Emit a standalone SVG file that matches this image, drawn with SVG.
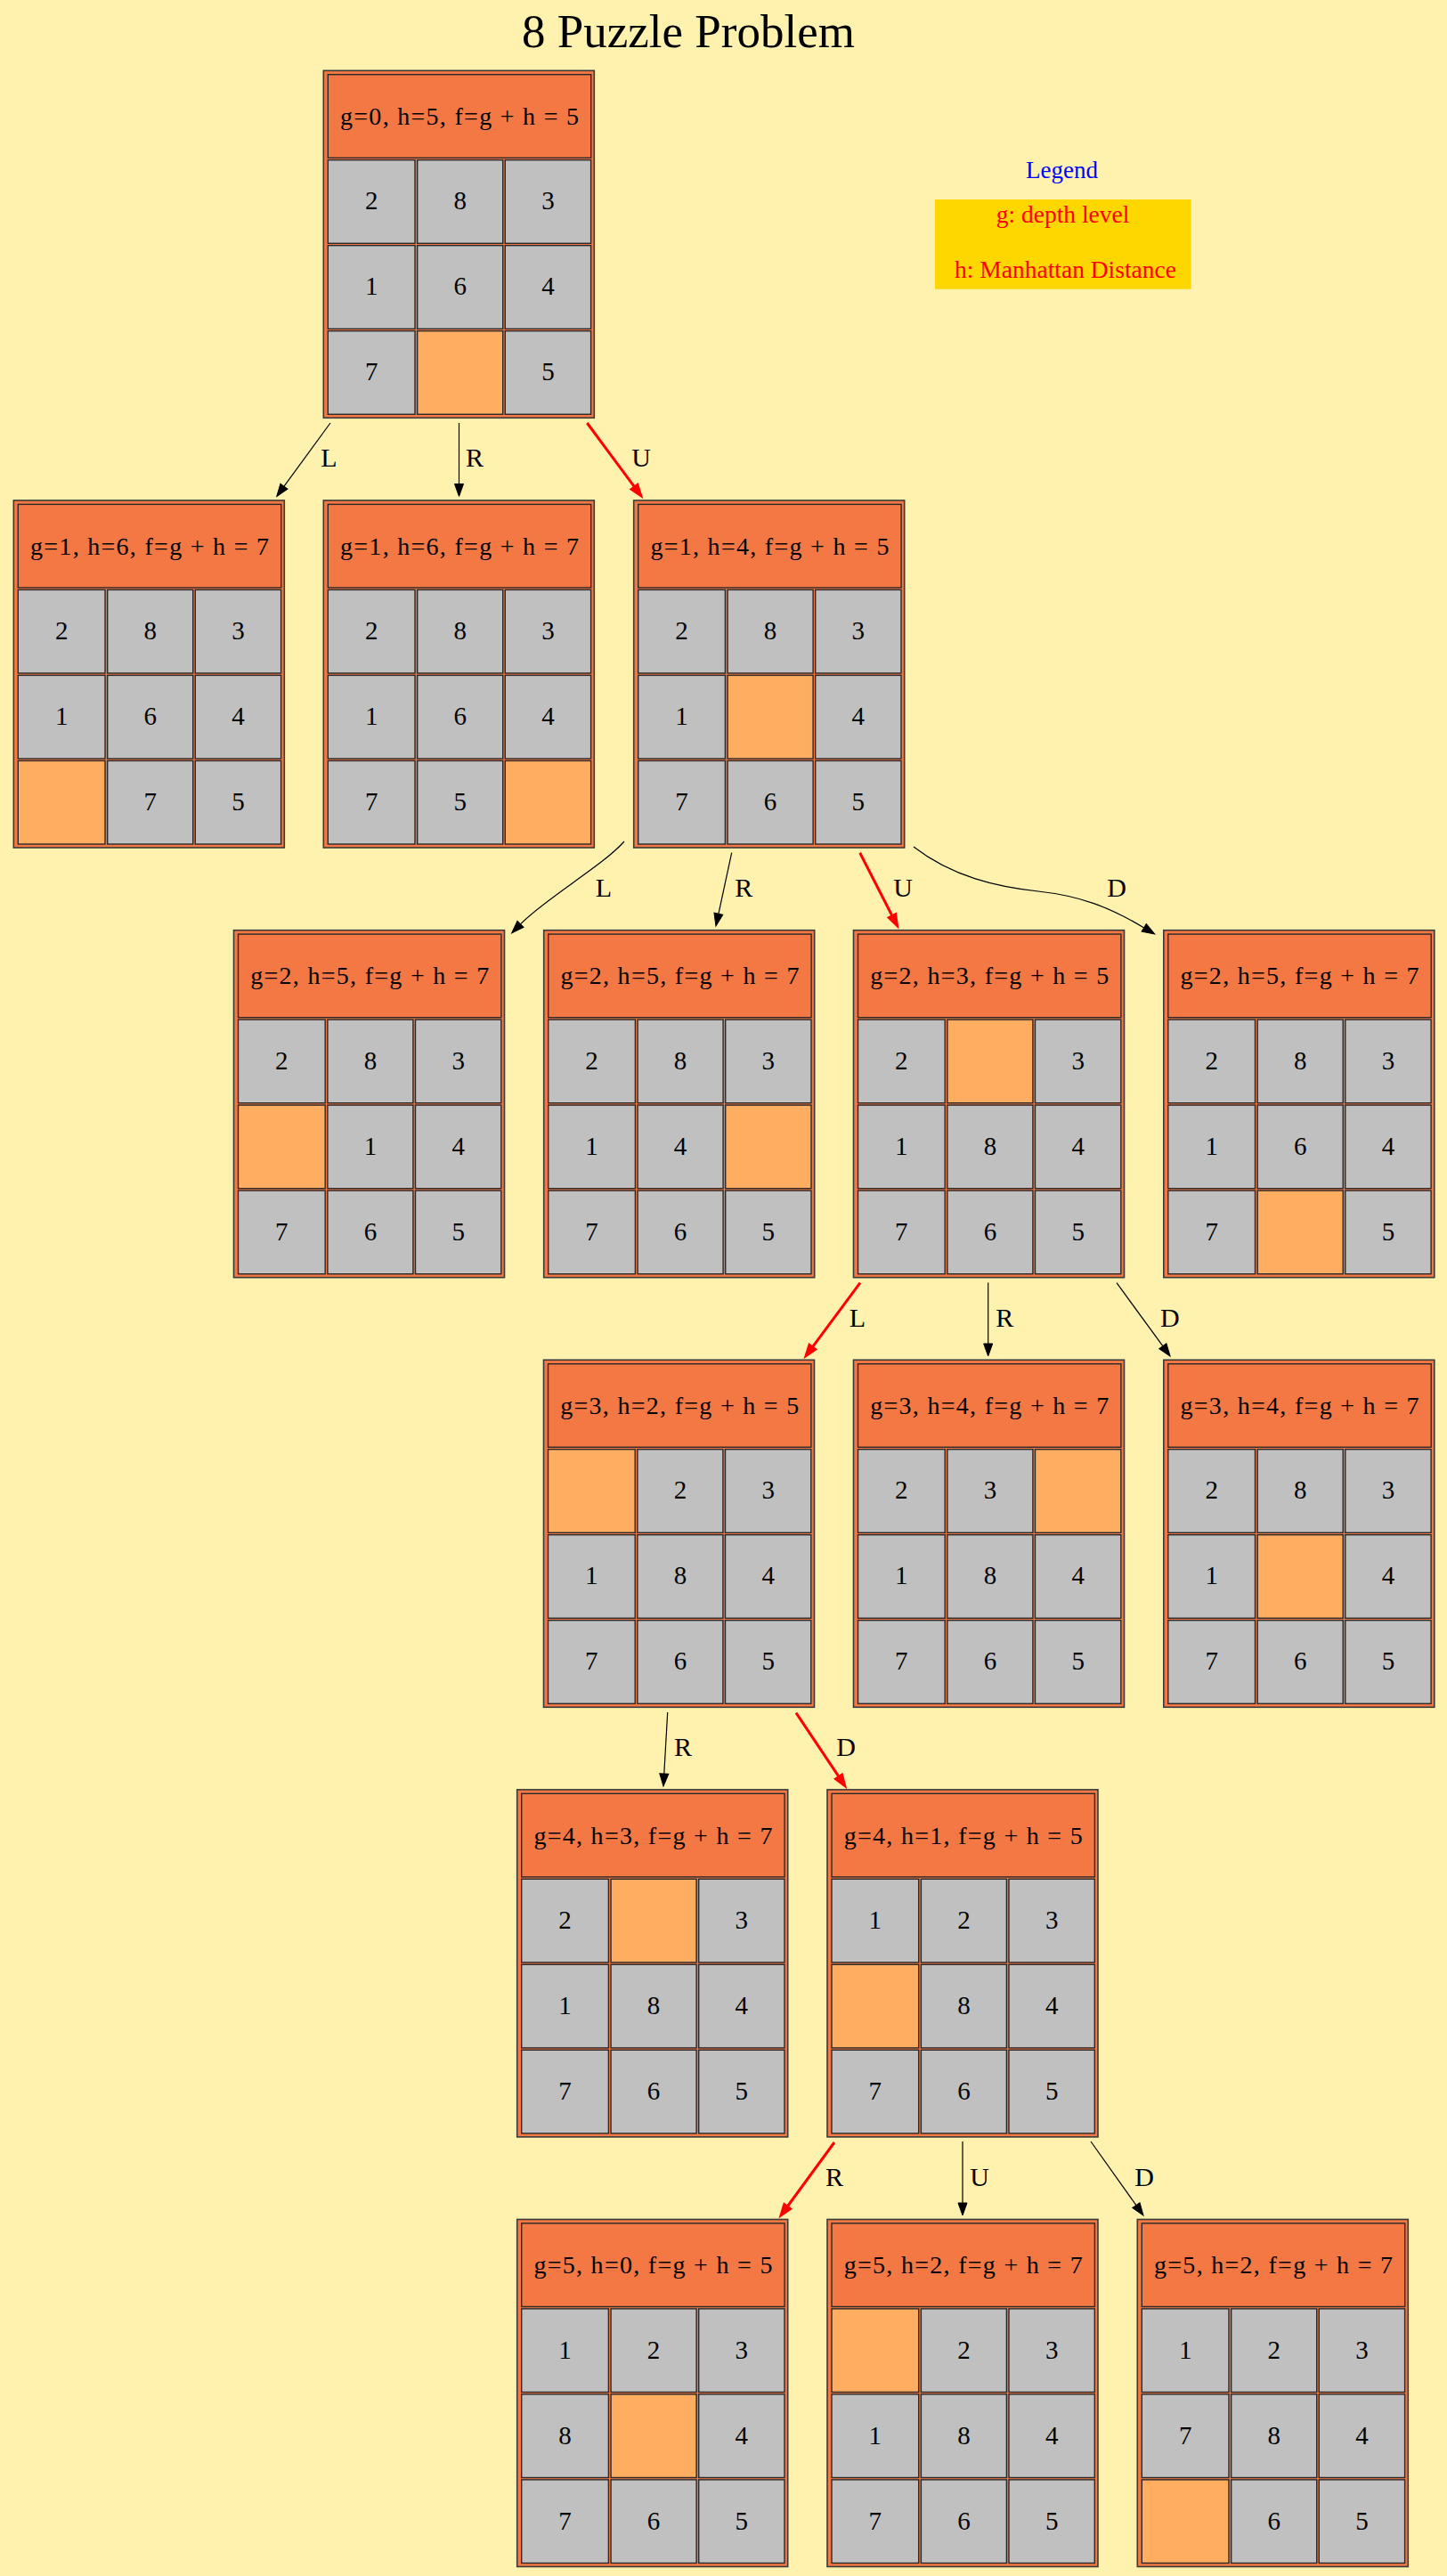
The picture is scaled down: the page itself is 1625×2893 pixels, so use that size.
<svg xmlns="http://www.w3.org/2000/svg" width="1625" height="2893" viewBox="0 0 1625 2893">
<style>
.bg{fill:#FFF2AE}
.outer{fill:#F37844;stroke:#3a3a3a;stroke-width:1.6}
.hdr{fill:#F37844;stroke:#2a2a2a;stroke-width:1.4}
.c{fill:#C0C0C0;stroke:#2a2a2a;stroke-width:1.4}
.e{fill:#FFAD60;stroke:#2a2a2a;stroke-width:1.4}
text{font-family:"Liberation Serif","Times New Roman",serif}
.ht{font-size:28px;text-anchor:middle;fill:#000}
.ct{font-size:29px;text-anchor:middle;fill:#000}
.lbl{font-size:30px;text-anchor:middle;fill:#000}
.edge{fill:none;stroke:#000;stroke-width:1.2}
.path{fill:none;stroke:#FF0000;stroke-width:3}
</style>
<defs>
<marker id="ah" markerUnits="userSpaceOnUse" markerWidth="16" markerHeight="12" refX="0" refY="5" orient="auto" overflow="visible"><path d="M0,0 L14,5 L0,10 z" fill="#000" stroke="#000" stroke-width="1"/></marker>
<marker id="ahr" markerUnits="userSpaceOnUse" markerWidth="16" markerHeight="12" refX="0" refY="5" orient="auto" overflow="visible"><path d="M0,0.5 L13,5 L0,9.5 z" fill="#FF0000" stroke="#FF0000" stroke-width="2.5" stroke-linejoin="miter"/></marker>
<g id="frame">
<rect class="outer" x="0" y="0" width="304" height="390"/>
<rect class="hdr" x="5" y="4.4" width="295.4" height="93.6"/>
</g>
</defs>
<rect class="bg" x="0" y="0" width="1625" height="2893"/>
<text x="773" y="52.7" style="font-size:53px;text-anchor:middle;fill:#000">8 Puzzle Problem</text>

<g id="legend">
<text x="1192.5" y="200" style="font-size:27px;text-anchor:middle;fill:#0000FF">Legend</text>
<rect x="1050" y="224" width="287.7" height="100.7" fill="#FFD700"/>
<text x="1193.5" y="250" style="font-size:27.5px;text-anchor:middle;fill:#FF0000">g: depth level</text>
<text x="1196.5" y="311.7" style="font-size:27.5px;text-anchor:middle;fill:#FF0000">h: Manhattan Distance</text>
</g>

<g id="connectors">
<path class="edge" marker-end="url(#ah)" d="M371,475 L319,546.2"/>
<text class="lbl" x="369.5" y="524.3">L</text>
<path class="edge" marker-end="url(#ah)" d="M515.5,475 L515.5,543.5"/>
<text class="lbl" x="533" y="524.3">R</text>
<path class="path" marker-end="url(#ahr)" d="M659.3,475 L712.4,546.7"/>
<text class="lbl" x="720" y="524.3">U</text>

<path class="edge" marker-end="url(#ah)" d="M701,945 C676,973 615,1007 584.5,1037.9"/>
<text class="lbl" x="678" y="1006.7">L</text>
<path class="edge" marker-end="url(#ah)" d="M821.7,957.7 L806.9,1026.3"/>
<text class="lbl" x="835.3" y="1006.7">R</text>
<path class="path" marker-end="url(#ahr)" d="M965.7,957.7 L1001.9,1028.5"/>
<text class="lbl" x="1014" y="1006.7">U</text>
<path class="edge" marker-end="url(#ah)" d="M1026,951 C1070,985 1120,996 1166,1001 S1244.7,1018 1284.7,1041.9"/>
<text class="lbl" x="1254" y="1006.7">D</text>

<path class="path" marker-end="url(#ahr)" d="M966,1440.7 L912.4,1512.8"/>
<text class="lbl" x="963" y="1489.7">L</text>
<path class="edge" marker-end="url(#ah)" d="M1109.7,1440.5 L1109.7,1509"/>
<text class="lbl" x="1128.3" y="1489.7">R</text>
<path class="edge" marker-end="url(#ah)" d="M1254,1440.7 L1305.8,1511.7"/>
<text class="lbl" x="1313.8" y="1489.7">D</text>

<path class="edge" marker-end="url(#ah)" d="M749.7,1923 L745.8,1992"/>
<text class="lbl" x="767" y="1972">R</text>
<path class="path" marker-end="url(#ahr)" d="M894,1923.6 L941.9,1995.2"/>
<text class="lbl" x="950" y="1972">D</text>

<path class="path" marker-end="url(#ahr)" d="M937,2406 L884.3,2478"/>
<text class="lbl" x="937" y="2454.5">R</text>
<path class="edge" marker-end="url(#ah)" d="M1081,2405 L1081,2474"/>
<text class="lbl" x="1100" y="2454.5">U</text>
<path class="edge" marker-end="url(#ah)" d="M1225,2405 L1275.9,2476.6"/>
<text class="lbl" x="1285" y="2454.5">D</text>
</g>

<g id="n0" transform="translate(363.3,79.3)">
<use href="#frame"/>
<text class="ht" x="152.7" y="60.7" textLength="268" lengthAdjust="spacing">g=0, h=5, f=g + h = 5</text>
<rect class="c" x="5" y="100.4" width="97.7" height="93.6"/><rect class="c" x="105.4" y="100.4" width="96" height="93.6"/><rect class="c" x="204" y="100.4" width="96.3" height="93.6"/>
<rect class="c" x="5" y="196.4" width="97.7" height="93.6"/><rect class="c" x="105.4" y="196.4" width="96" height="93.6"/><rect class="c" x="204" y="196.4" width="96.3" height="93.6"/>
<rect class="c" x="5" y="292.4" width="97.7" height="93.6"/><rect class="e" x="105.4" y="292.4" width="96" height="93.6"/><rect class="c" x="204" y="292.4" width="96.3" height="93.6"/>
<text class="ct" x="53.85" y="156.2">2</text><text class="ct" x="153.4" y="156.2">8</text><text class="ct" x="252.15" y="156.2">3</text>
<text class="ct" x="53.85" y="252.2">1</text><text class="ct" x="153.4" y="252.2">6</text><text class="ct" x="252.15" y="252.2">4</text>
<text class="ct" x="53.85" y="348.2">7</text><text class="ct" x="252.15" y="348.2">5</text>
</g>

<g id="n1" transform="translate(15.3,562)">
<use href="#frame"/>
<text class="ht" x="152.7" y="60.7" textLength="268" lengthAdjust="spacing">g=1, h=6, f=g + h = 7</text>
<rect class="c" x="5" y="100.4" width="97.7" height="93.6"/><rect class="c" x="105.4" y="100.4" width="96" height="93.6"/><rect class="c" x="204" y="100.4" width="96.3" height="93.6"/>
<rect class="c" x="5" y="196.4" width="97.7" height="93.6"/><rect class="c" x="105.4" y="196.4" width="96" height="93.6"/><rect class="c" x="204" y="196.4" width="96.3" height="93.6"/>
<rect class="e" x="5" y="292.4" width="97.7" height="93.6"/><rect class="c" x="105.4" y="292.4" width="96" height="93.6"/><rect class="c" x="204" y="292.4" width="96.3" height="93.6"/>
<text class="ct" x="53.85" y="156.2">2</text><text class="ct" x="153.4" y="156.2">8</text><text class="ct" x="252.15" y="156.2">3</text>
<text class="ct" x="53.85" y="252.2">1</text><text class="ct" x="153.4" y="252.2">6</text><text class="ct" x="252.15" y="252.2">4</text>
<text class="ct" x="153.4" y="348.2">7</text><text class="ct" x="252.15" y="348.2">5</text>
</g>

<g id="n2" transform="translate(363.3,562)">
<use href="#frame"/>
<text class="ht" x="152.7" y="60.7" textLength="268" lengthAdjust="spacing">g=1, h=6, f=g + h = 7</text>
<rect class="c" x="5" y="100.4" width="97.7" height="93.6"/><rect class="c" x="105.4" y="100.4" width="96" height="93.6"/><rect class="c" x="204" y="100.4" width="96.3" height="93.6"/>
<rect class="c" x="5" y="196.4" width="97.7" height="93.6"/><rect class="c" x="105.4" y="196.4" width="96" height="93.6"/><rect class="c" x="204" y="196.4" width="96.3" height="93.6"/>
<rect class="c" x="5" y="292.4" width="97.7" height="93.6"/><rect class="c" x="105.4" y="292.4" width="96" height="93.6"/><rect class="e" x="204" y="292.4" width="96.3" height="93.6"/>
<text class="ct" x="53.85" y="156.2">2</text><text class="ct" x="153.4" y="156.2">8</text><text class="ct" x="252.15" y="156.2">3</text>
<text class="ct" x="53.85" y="252.2">1</text><text class="ct" x="153.4" y="252.2">6</text><text class="ct" x="252.15" y="252.2">4</text>
<text class="ct" x="53.85" y="348.2">7</text><text class="ct" x="153.4" y="348.2">5</text>
</g>

<g id="n3" transform="translate(711.7,562)">
<use href="#frame"/>
<text class="ht" x="152.7" y="60.7" textLength="268" lengthAdjust="spacing">g=1, h=4, f=g + h = 5</text>
<rect class="c" x="5" y="100.4" width="97.7" height="93.6"/><rect class="c" x="105.4" y="100.4" width="96" height="93.6"/><rect class="c" x="204" y="100.4" width="96.3" height="93.6"/>
<rect class="c" x="5" y="196.4" width="97.7" height="93.6"/><rect class="e" x="105.4" y="196.4" width="96" height="93.6"/><rect class="c" x="204" y="196.4" width="96.3" height="93.6"/>
<rect class="c" x="5" y="292.4" width="97.7" height="93.6"/><rect class="c" x="105.4" y="292.4" width="96" height="93.6"/><rect class="c" x="204" y="292.4" width="96.3" height="93.6"/>
<text class="ct" x="53.85" y="156.2">2</text><text class="ct" x="153.4" y="156.2">8</text><text class="ct" x="252.15" y="156.2">3</text>
<text class="ct" x="53.85" y="252.2">1</text><text class="ct" x="252.15" y="252.2">4</text>
<text class="ct" x="53.85" y="348.2">7</text><text class="ct" x="153.4" y="348.2">6</text><text class="ct" x="252.15" y="348.2">5</text>
</g>

<g id="n4" transform="translate(262.5,1044.7)">
<use href="#frame"/>
<text class="ht" x="152.7" y="60.7" textLength="268" lengthAdjust="spacing">g=2, h=5, f=g + h = 7</text>
<rect class="c" x="5" y="100.4" width="97.7" height="93.6"/><rect class="c" x="105.4" y="100.4" width="96" height="93.6"/><rect class="c" x="204" y="100.4" width="96.3" height="93.6"/>
<rect class="e" x="5" y="196.4" width="97.7" height="93.6"/><rect class="c" x="105.4" y="196.4" width="96" height="93.6"/><rect class="c" x="204" y="196.4" width="96.3" height="93.6"/>
<rect class="c" x="5" y="292.4" width="97.7" height="93.6"/><rect class="c" x="105.4" y="292.4" width="96" height="93.6"/><rect class="c" x="204" y="292.4" width="96.3" height="93.6"/>
<text class="ct" x="53.85" y="156.2">2</text><text class="ct" x="153.4" y="156.2">8</text><text class="ct" x="252.15" y="156.2">3</text>
<text class="ct" x="153.4" y="252.2">1</text><text class="ct" x="252.15" y="252.2">4</text>
<text class="ct" x="53.85" y="348.2">7</text><text class="ct" x="153.4" y="348.2">6</text><text class="ct" x="252.15" y="348.2">5</text>
</g>

<g id="n5" transform="translate(610.7,1044.7)">
<use href="#frame"/>
<text class="ht" x="152.7" y="60.7" textLength="268" lengthAdjust="spacing">g=2, h=5, f=g + h = 7</text>
<rect class="c" x="5" y="100.4" width="97.7" height="93.6"/><rect class="c" x="105.4" y="100.4" width="96" height="93.6"/><rect class="c" x="204" y="100.4" width="96.3" height="93.6"/>
<rect class="c" x="5" y="196.4" width="97.7" height="93.6"/><rect class="c" x="105.4" y="196.4" width="96" height="93.6"/><rect class="e" x="204" y="196.4" width="96.3" height="93.6"/>
<rect class="c" x="5" y="292.4" width="97.7" height="93.6"/><rect class="c" x="105.4" y="292.4" width="96" height="93.6"/><rect class="c" x="204" y="292.4" width="96.3" height="93.6"/>
<text class="ct" x="53.85" y="156.2">2</text><text class="ct" x="153.4" y="156.2">8</text><text class="ct" x="252.15" y="156.2">3</text>
<text class="ct" x="53.85" y="252.2">1</text><text class="ct" x="153.4" y="252.2">4</text>
<text class="ct" x="53.85" y="348.2">7</text><text class="ct" x="153.4" y="348.2">6</text><text class="ct" x="252.15" y="348.2">5</text>
</g>

<g id="n6" transform="translate(958.5,1044.7)">
<use href="#frame"/>
<text class="ht" x="152.7" y="60.7" textLength="268" lengthAdjust="spacing">g=2, h=3, f=g + h = 5</text>
<rect class="c" x="5" y="100.4" width="97.7" height="93.6"/><rect class="e" x="105.4" y="100.4" width="96" height="93.6"/><rect class="c" x="204" y="100.4" width="96.3" height="93.6"/>
<rect class="c" x="5" y="196.4" width="97.7" height="93.6"/><rect class="c" x="105.4" y="196.4" width="96" height="93.6"/><rect class="c" x="204" y="196.4" width="96.3" height="93.6"/>
<rect class="c" x="5" y="292.4" width="97.7" height="93.6"/><rect class="c" x="105.4" y="292.4" width="96" height="93.6"/><rect class="c" x="204" y="292.4" width="96.3" height="93.6"/>
<text class="ct" x="53.85" y="156.2">2</text><text class="ct" x="252.15" y="156.2">3</text>
<text class="ct" x="53.85" y="252.2">1</text><text class="ct" x="153.4" y="252.2">8</text><text class="ct" x="252.15" y="252.2">4</text>
<text class="ct" x="53.85" y="348.2">7</text><text class="ct" x="153.4" y="348.2">6</text><text class="ct" x="252.15" y="348.2">5</text>
</g>

<g id="n7" transform="translate(1306.8,1044.7)">
<use href="#frame"/>
<text class="ht" x="152.7" y="60.7" textLength="268" lengthAdjust="spacing">g=2, h=5, f=g + h = 7</text>
<rect class="c" x="5" y="100.4" width="97.7" height="93.6"/><rect class="c" x="105.4" y="100.4" width="96" height="93.6"/><rect class="c" x="204" y="100.4" width="96.3" height="93.6"/>
<rect class="c" x="5" y="196.4" width="97.7" height="93.6"/><rect class="c" x="105.4" y="196.4" width="96" height="93.6"/><rect class="c" x="204" y="196.4" width="96.3" height="93.6"/>
<rect class="c" x="5" y="292.4" width="97.7" height="93.6"/><rect class="e" x="105.4" y="292.4" width="96" height="93.6"/><rect class="c" x="204" y="292.4" width="96.3" height="93.6"/>
<text class="ct" x="53.85" y="156.2">2</text><text class="ct" x="153.4" y="156.2">8</text><text class="ct" x="252.15" y="156.2">3</text>
<text class="ct" x="53.85" y="252.2">1</text><text class="ct" x="153.4" y="252.2">6</text><text class="ct" x="252.15" y="252.2">4</text>
<text class="ct" x="53.85" y="348.2">7</text><text class="ct" x="252.15" y="348.2">5</text>
</g>

<g id="n8" transform="translate(610.5,1527.3)">
<use href="#frame"/>
<text class="ht" x="152.7" y="60.7" textLength="268" lengthAdjust="spacing">g=3, h=2, f=g + h = 5</text>
<rect class="e" x="5" y="100.4" width="97.7" height="93.6"/><rect class="c" x="105.4" y="100.4" width="96" height="93.6"/><rect class="c" x="204" y="100.4" width="96.3" height="93.6"/>
<rect class="c" x="5" y="196.4" width="97.7" height="93.6"/><rect class="c" x="105.4" y="196.4" width="96" height="93.6"/><rect class="c" x="204" y="196.4" width="96.3" height="93.6"/>
<rect class="c" x="5" y="292.4" width="97.7" height="93.6"/><rect class="c" x="105.4" y="292.4" width="96" height="93.6"/><rect class="c" x="204" y="292.4" width="96.3" height="93.6"/>
<text class="ct" x="153.4" y="156.2">2</text><text class="ct" x="252.15" y="156.2">3</text>
<text class="ct" x="53.85" y="252.2">1</text><text class="ct" x="153.4" y="252.2">8</text><text class="ct" x="252.15" y="252.2">4</text>
<text class="ct" x="53.85" y="348.2">7</text><text class="ct" x="153.4" y="348.2">6</text><text class="ct" x="252.15" y="348.2">5</text>
</g>

<g id="n9" transform="translate(958.5,1527.3)">
<use href="#frame"/>
<text class="ht" x="152.7" y="60.7" textLength="268" lengthAdjust="spacing">g=3, h=4, f=g + h = 7</text>
<rect class="c" x="5" y="100.4" width="97.7" height="93.6"/><rect class="c" x="105.4" y="100.4" width="96" height="93.6"/><rect class="e" x="204" y="100.4" width="96.3" height="93.6"/>
<rect class="c" x="5" y="196.4" width="97.7" height="93.6"/><rect class="c" x="105.4" y="196.4" width="96" height="93.6"/><rect class="c" x="204" y="196.4" width="96.3" height="93.6"/>
<rect class="c" x="5" y="292.4" width="97.7" height="93.6"/><rect class="c" x="105.4" y="292.4" width="96" height="93.6"/><rect class="c" x="204" y="292.4" width="96.3" height="93.6"/>
<text class="ct" x="53.85" y="156.2">2</text><text class="ct" x="153.4" y="156.2">3</text>
<text class="ct" x="53.85" y="252.2">1</text><text class="ct" x="153.4" y="252.2">8</text><text class="ct" x="252.15" y="252.2">4</text>
<text class="ct" x="53.85" y="348.2">7</text><text class="ct" x="153.4" y="348.2">6</text><text class="ct" x="252.15" y="348.2">5</text>
</g>

<g id="n10" transform="translate(1306.8,1527.3)">
<use href="#frame"/>
<text class="ht" x="152.7" y="60.7" textLength="268" lengthAdjust="spacing">g=3, h=4, f=g + h = 7</text>
<rect class="c" x="5" y="100.4" width="97.7" height="93.6"/><rect class="c" x="105.4" y="100.4" width="96" height="93.6"/><rect class="c" x="204" y="100.4" width="96.3" height="93.6"/>
<rect class="c" x="5" y="196.4" width="97.7" height="93.6"/><rect class="e" x="105.4" y="196.4" width="96" height="93.6"/><rect class="c" x="204" y="196.4" width="96.3" height="93.6"/>
<rect class="c" x="5" y="292.4" width="97.7" height="93.6"/><rect class="c" x="105.4" y="292.4" width="96" height="93.6"/><rect class="c" x="204" y="292.4" width="96.3" height="93.6"/>
<text class="ct" x="53.85" y="156.2">2</text><text class="ct" x="153.4" y="156.2">8</text><text class="ct" x="252.15" y="156.2">3</text>
<text class="ct" x="53.85" y="252.2">1</text><text class="ct" x="252.15" y="252.2">4</text>
<text class="ct" x="53.85" y="348.2">7</text><text class="ct" x="153.4" y="348.2">6</text><text class="ct" x="252.15" y="348.2">5</text>
</g>

<g id="n11" transform="translate(580.7,2009.9)">
<use href="#frame"/>
<text class="ht" x="152.7" y="60.7" textLength="268" lengthAdjust="spacing">g=4, h=3, f=g + h = 7</text>
<rect class="c" x="5" y="100.4" width="97.7" height="93.6"/><rect class="e" x="105.4" y="100.4" width="96" height="93.6"/><rect class="c" x="204" y="100.4" width="96.3" height="93.6"/>
<rect class="c" x="5" y="196.4" width="97.7" height="93.6"/><rect class="c" x="105.4" y="196.4" width="96" height="93.6"/><rect class="c" x="204" y="196.4" width="96.3" height="93.6"/>
<rect class="c" x="5" y="292.4" width="97.7" height="93.6"/><rect class="c" x="105.4" y="292.4" width="96" height="93.6"/><rect class="c" x="204" y="292.4" width="96.3" height="93.6"/>
<text class="ct" x="53.85" y="156.2">2</text><text class="ct" x="252.15" y="156.2">3</text>
<text class="ct" x="53.85" y="252.2">1</text><text class="ct" x="153.4" y="252.2">8</text><text class="ct" x="252.15" y="252.2">4</text>
<text class="ct" x="53.85" y="348.2">7</text><text class="ct" x="153.4" y="348.2">6</text><text class="ct" x="252.15" y="348.2">5</text>
</g>

<g id="n12" transform="translate(929,2009.9)">
<use href="#frame"/>
<text class="ht" x="152.7" y="60.7" textLength="268" lengthAdjust="spacing">g=4, h=1, f=g + h = 5</text>
<rect class="c" x="5" y="100.4" width="97.7" height="93.6"/><rect class="c" x="105.4" y="100.4" width="96" height="93.6"/><rect class="c" x="204" y="100.4" width="96.3" height="93.6"/>
<rect class="e" x="5" y="196.4" width="97.7" height="93.6"/><rect class="c" x="105.4" y="196.4" width="96" height="93.6"/><rect class="c" x="204" y="196.4" width="96.3" height="93.6"/>
<rect class="c" x="5" y="292.4" width="97.7" height="93.6"/><rect class="c" x="105.4" y="292.4" width="96" height="93.6"/><rect class="c" x="204" y="292.4" width="96.3" height="93.6"/>
<text class="ct" x="53.85" y="156.2">1</text><text class="ct" x="153.4" y="156.2">2</text><text class="ct" x="252.15" y="156.2">3</text>
<text class="ct" x="153.4" y="252.2">8</text><text class="ct" x="252.15" y="252.2">4</text>
<text class="ct" x="53.85" y="348.2">7</text><text class="ct" x="153.4" y="348.2">6</text><text class="ct" x="252.15" y="348.2">5</text>
</g>

<g id="n13" transform="translate(580.7,2492.5)">
<use href="#frame"/>
<text class="ht" x="152.7" y="60.7" textLength="268" lengthAdjust="spacing">g=5, h=0, f=g + h = 5</text>
<rect class="c" x="5" y="100.4" width="97.7" height="93.6"/><rect class="c" x="105.4" y="100.4" width="96" height="93.6"/><rect class="c" x="204" y="100.4" width="96.3" height="93.6"/>
<rect class="c" x="5" y="196.4" width="97.7" height="93.6"/><rect class="e" x="105.4" y="196.4" width="96" height="93.6"/><rect class="c" x="204" y="196.4" width="96.3" height="93.6"/>
<rect class="c" x="5" y="292.4" width="97.7" height="93.6"/><rect class="c" x="105.4" y="292.4" width="96" height="93.6"/><rect class="c" x="204" y="292.4" width="96.3" height="93.6"/>
<text class="ct" x="53.85" y="156.2">1</text><text class="ct" x="153.4" y="156.2">2</text><text class="ct" x="252.15" y="156.2">3</text>
<text class="ct" x="53.85" y="252.2">8</text><text class="ct" x="252.15" y="252.2">4</text>
<text class="ct" x="53.85" y="348.2">7</text><text class="ct" x="153.4" y="348.2">6</text><text class="ct" x="252.15" y="348.2">5</text>
</g>

<g id="n14" transform="translate(929,2492.5)">
<use href="#frame"/>
<text class="ht" x="152.7" y="60.7" textLength="268" lengthAdjust="spacing">g=5, h=2, f=g + h = 7</text>
<rect class="e" x="5" y="100.4" width="97.7" height="93.6"/><rect class="c" x="105.4" y="100.4" width="96" height="93.6"/><rect class="c" x="204" y="100.4" width="96.3" height="93.6"/>
<rect class="c" x="5" y="196.4" width="97.7" height="93.6"/><rect class="c" x="105.4" y="196.4" width="96" height="93.6"/><rect class="c" x="204" y="196.4" width="96.3" height="93.6"/>
<rect class="c" x="5" y="292.4" width="97.7" height="93.6"/><rect class="c" x="105.4" y="292.4" width="96" height="93.6"/><rect class="c" x="204" y="292.4" width="96.3" height="93.6"/>
<text class="ct" x="153.4" y="156.2">2</text><text class="ct" x="252.15" y="156.2">3</text>
<text class="ct" x="53.85" y="252.2">1</text><text class="ct" x="153.4" y="252.2">8</text><text class="ct" x="252.15" y="252.2">4</text>
<text class="ct" x="53.85" y="348.2">7</text><text class="ct" x="153.4" y="348.2">6</text><text class="ct" x="252.15" y="348.2">5</text>
</g>

<g id="n15" transform="translate(1277.3,2492.5)">
<use href="#frame"/>
<text class="ht" x="152.7" y="60.7" textLength="268" lengthAdjust="spacing">g=5, h=2, f=g + h = 7</text>
<rect class="c" x="5" y="100.4" width="97.7" height="93.6"/><rect class="c" x="105.4" y="100.4" width="96" height="93.6"/><rect class="c" x="204" y="100.4" width="96.3" height="93.6"/>
<rect class="c" x="5" y="196.4" width="97.7" height="93.6"/><rect class="c" x="105.4" y="196.4" width="96" height="93.6"/><rect class="c" x="204" y="196.4" width="96.3" height="93.6"/>
<rect class="e" x="5" y="292.4" width="97.7" height="93.6"/><rect class="c" x="105.4" y="292.4" width="96" height="93.6"/><rect class="c" x="204" y="292.4" width="96.3" height="93.6"/>
<text class="ct" x="53.85" y="156.2">1</text><text class="ct" x="153.4" y="156.2">2</text><text class="ct" x="252.15" y="156.2">3</text>
<text class="ct" x="53.85" y="252.2">7</text><text class="ct" x="153.4" y="252.2">8</text><text class="ct" x="252.15" y="252.2">4</text>
<text class="ct" x="153.4" y="348.2">6</text><text class="ct" x="252.15" y="348.2">5</text>
</g>
</svg>
